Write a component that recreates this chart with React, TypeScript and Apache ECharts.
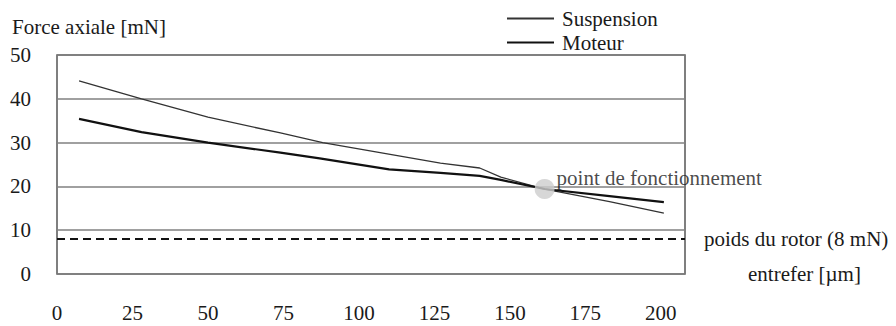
import React, { useEffect, useRef } from "react";
import * as echarts from "echarts";

const suspensionX = [7.3, 28, 50, 74, 88, 127, 140, 147, 161.5, 183, 201];
const suspensionY = [44.1, 40.0, 35.8, 32.2, 30.0, 25.3, 24.2, 22.1, 19.4, 16.5, 13.9];

const moteurX = [7.3, 28, 50, 74, 87, 110, 127, 140, 147, 161.5, 183, 201];
const moteurY = [35.4, 32.4, 30.0, 27.7, 26.4, 23.9, 23.1, 22.4, 21.5, 19.4, 17.8, 16.4];

const operatingPoint = [161.5, 19.4];
const rotorWeight = 8;
const rotorLineX = [0, 208];

const xTicks = [0, 25, 50, 75, 100, 125, 150, 175, 200];

const FONT = "Liberation Serif";

export default function App() {
  const ref = useRef<HTMLDivElement>(null);
  useEffect(() => {
    if (!ref.current) return;
    const chart = echarts.init(ref.current, null, { renderer: "svg" });
    const text = { fontFamily: FONT, fontSize: 21, color: "#1a1a1a" };
    chart.setOption({
      animation: false,
      backgroundColor: "#fff",
      textStyle: { fontFamily: FONT },
      grid: {
        left: 57,
        right: 211,
        top: 55,
        bottom: 52,
        containLabel: false,
        outerBoundsMode: "none",
        show: true,
        borderColor: "#555",
        borderWidth: 1.5,
        backgroundColor: "transparent",
      },
      legend: {
        orient: "vertical",
        left: 506,
        top: 8,
        padding: 0,
        itemWidth: 47,
        itemHeight: 14,
        itemGap: 3,
        data: ["Suspension", "Moteur"],
        itemStyle: { opacity: 0 },
        textStyle: { ...text, lineHeight: 21, padding: [0, 0, 0, 3] },
      },
      xAxis: {
        type: "value",
        min: 0,
        max: 208,
        interval: 25,
        name: "entrefer [µm]",
        nameLocation: "end",
        nameGap: 63,
        nameTextStyle: { ...text, align: "left", verticalAlign: "middle", padding: [78, 0, 0, 0] },
        axisLine: { show: false },
        axisTick: { show: false },
        splitLine: { show: false },
        axisLabel: {
          ...text,
          margin: 28,
          showMaxLabel: false,
          formatter: (v: number) => (xTicks.includes(v) ? String(v) : ""),
        },
      },
      yAxis: {
        type: "value",
        min: 0,
        max: 50,
        interval: 10,
        name: "Force axiale [mN]",
        nameLocation: "end",
        nameGap: 18,
        nameTextStyle: { ...text, align: "left", padding: [0, 0, 0, -45] },
        axisLine: { show: false },
        axisTick: { show: false },
        splitLine: { show: true, lineStyle: { color: "#808080", width: 1.5 } },
        axisLabel: { ...text, margin: 26, align: "right", padding: [8, 0, 0, 0] },
      },
      series: [
        {
          name: "Suspension",
          type: "line",
          symbol: "none",
          data: suspensionX.map((x, i) => [x, suspensionY[i]]),
          lineStyle: { color: "#333", width: 1.3 },
          itemStyle: { color: "#333" },
          z: 3,
        },
        {
          name: "Moteur",
          type: "line",
          symbol: "none",
          data: moteurX.map((x, i) => [x, moteurY[i]]),
          lineStyle: { color: "#111", width: 2.2 },
          itemStyle: { color: "#111" },
          z: 3,
        },
        {
          name: "poids du rotor",
          type: "line",
          symbol: "none",
          clip: false,
          data: rotorLineX.map((x) => [x, rotorWeight]),
          lineStyle: { color: "#111", width: 2, type: [8, 5] },
          endLabel: {
            show: true,
            ...text,
            distance: 19,
            formatter: "poids du rotor (8 mN)",
          },
          z: 2,
        },
        {
          name: "point de fonctionnement",
          type: "scatter",
          symbol: "circle",
          symbolSize: 20,
          data: [operatingPoint],
          itemStyle: { color: "#cdcdcd" },
          label: {
            show: true,
            ...text,
            position: "right",
            distance: 2,
            offset: [0, -11],
            formatter: "point de fonctionnement",
          },
          z: 5,
        },
      ],
    });
    return () => chart.dispose();
  }, []);
  return (
    <div
      ref={ref}
      style={{ position: "fixed", left: 0, top: 0, width: 896, height: 326, background: "#fff" }}
    />
  );
}
